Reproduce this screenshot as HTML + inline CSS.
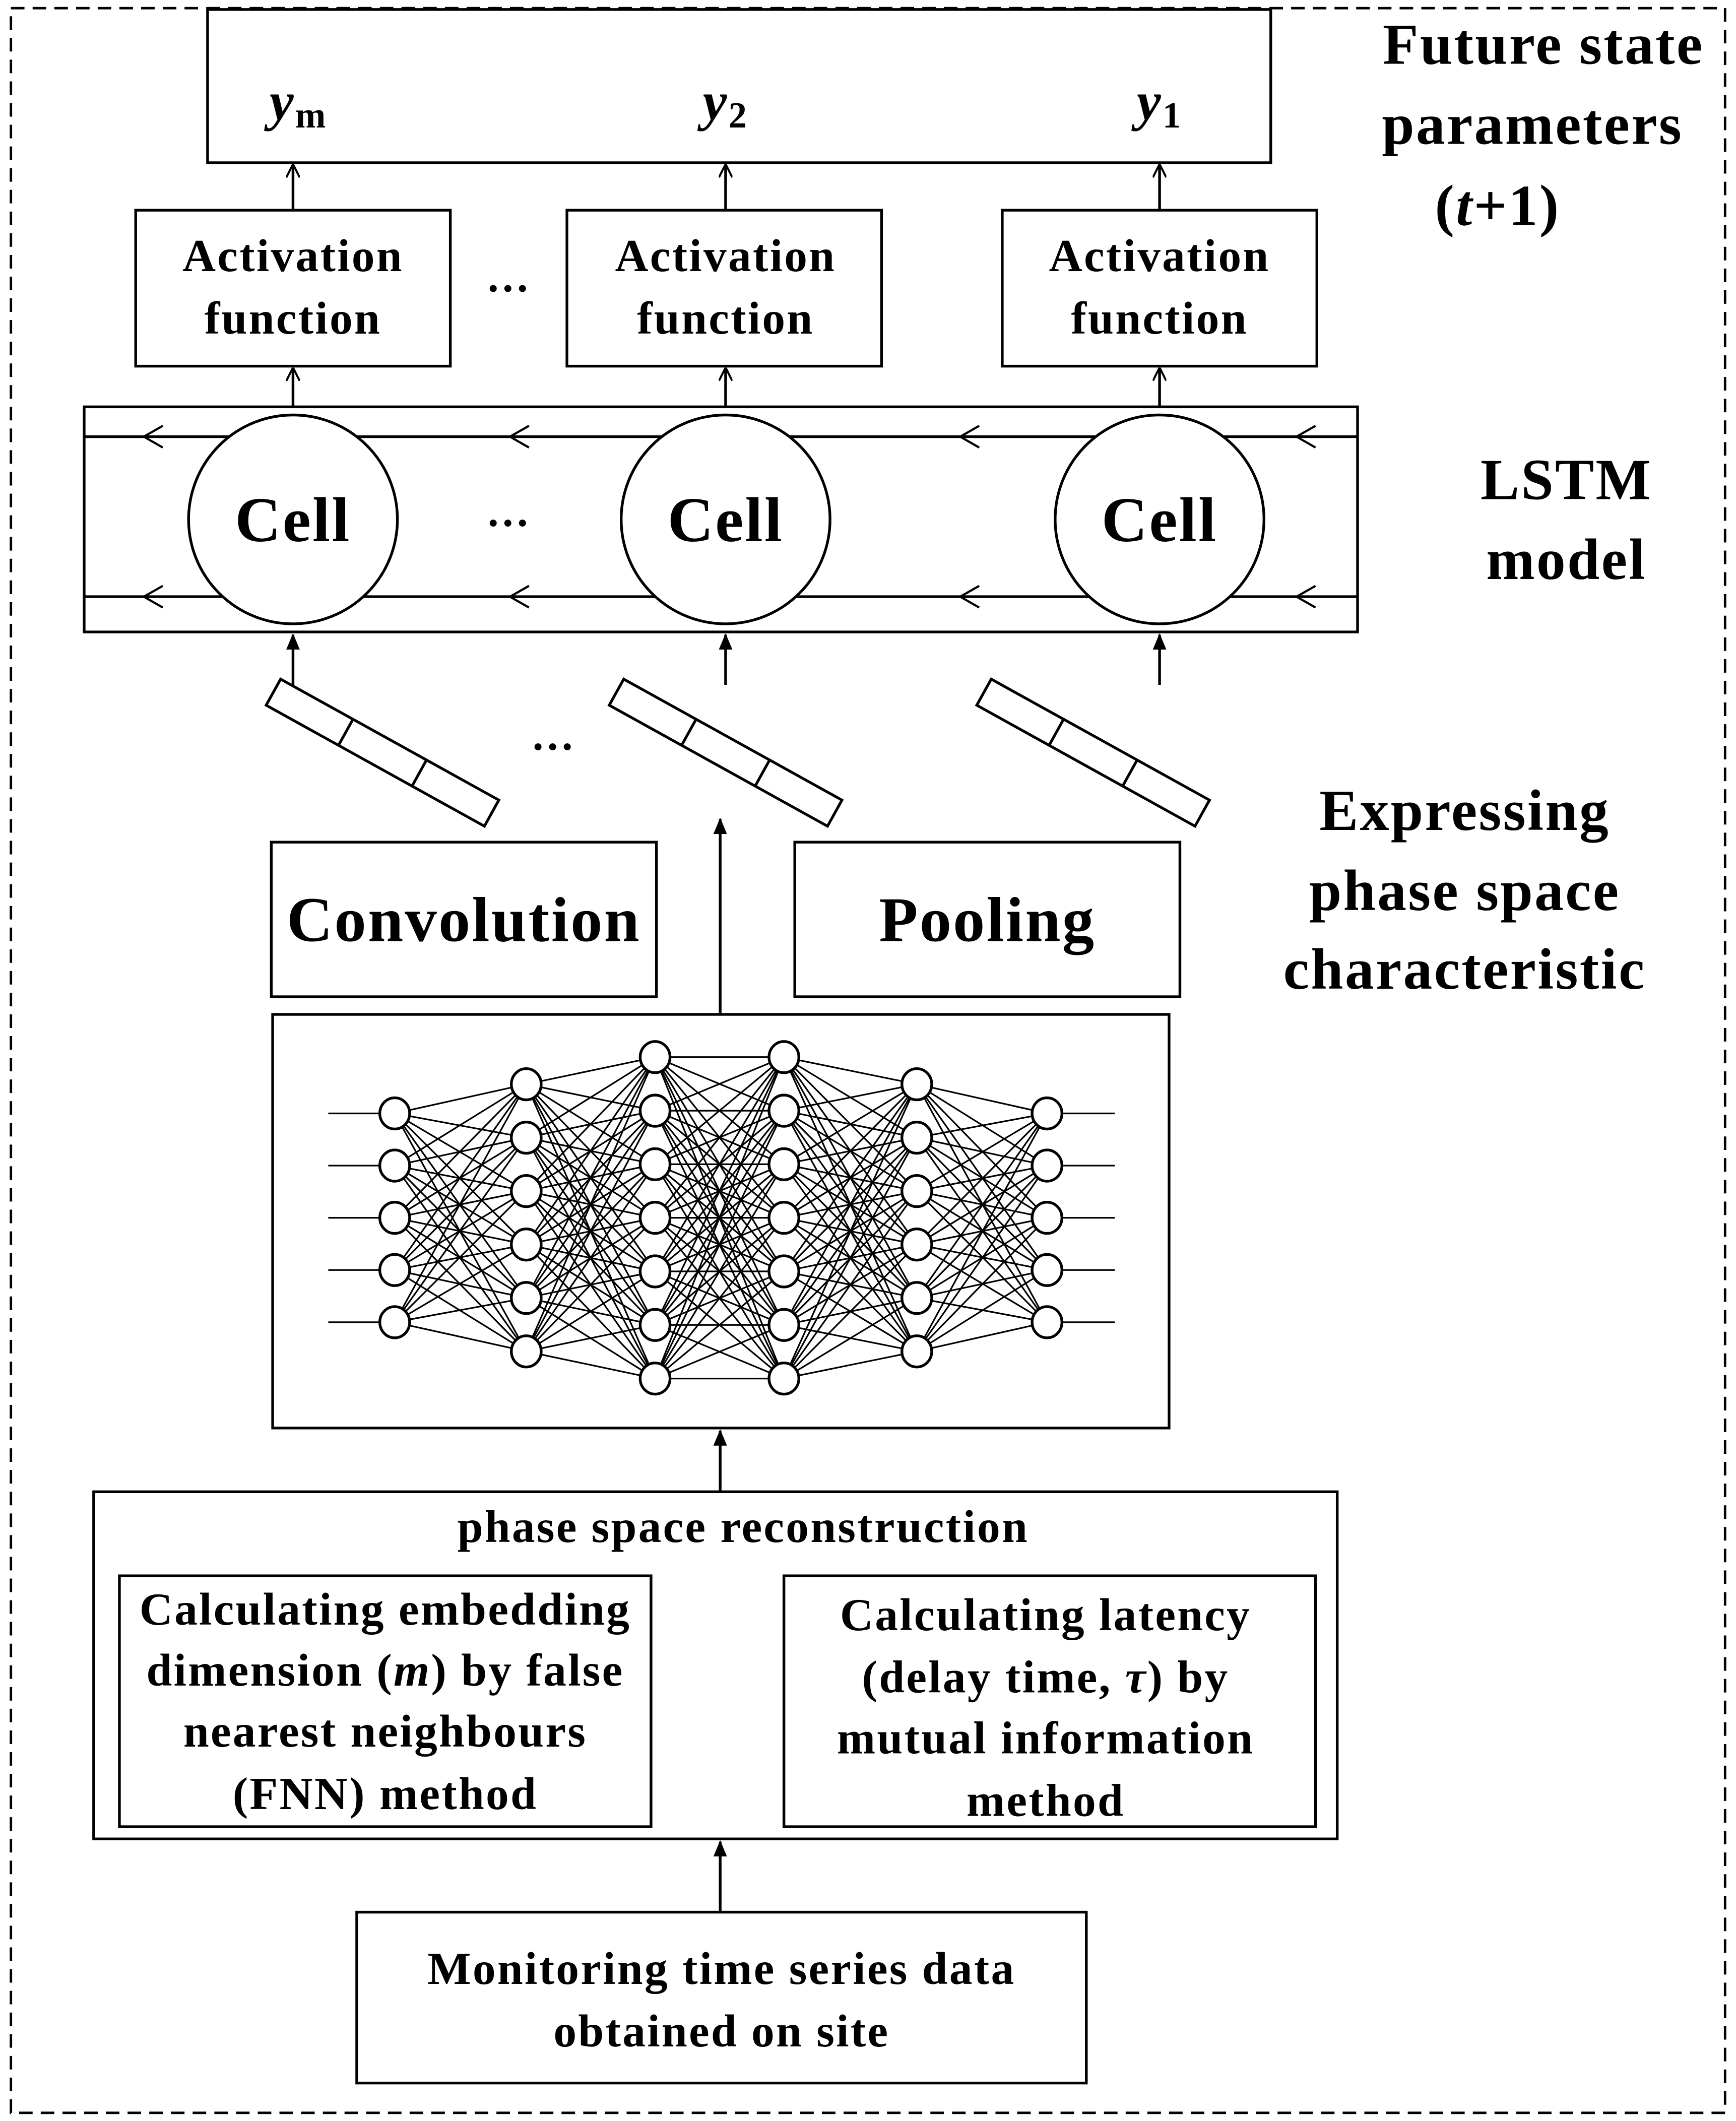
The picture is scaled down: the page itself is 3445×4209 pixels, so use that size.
<!DOCTYPE html>
<html><head><meta charset="utf-8"><style>
html,body{margin:0;padding:0;background:#fff}
svg{display:block}
text{font-family:"Liberation Serif",serif;font-weight:bold;fill:#000;letter-spacing:1.2px}
</style></head><body>
<svg id="s" width="3445" height="4209" viewBox="0 0 1280 1564" xmlns="http://www.w3.org/2000/svg">
<defs>
<marker id="a" markerWidth="10" markerHeight="10" refX="9" refY="5" orient="auto" markerUnits="userSpaceOnUse"><path d="M0,0 L10,5 L0,10" fill="none" stroke="#000" stroke-width="1.5"/></marker>
<marker id="f" markerWidth="12" markerHeight="12" refX="11" refY="6" orient="auto" markerUnits="userSpaceOnUse"><path d="M0,1 L12,6 L0,11 z" fill="#000"/></marker>
</defs>
<g fill="none" stroke="#000" stroke-width="2">
<rect x="8" y="6" width="1264" height="1552" stroke-dasharray="10,6" stroke-width="1.8"/>
<rect x="153" y="7" width="784" height="113"/>
<rect x="100" y="155" width="232" height="115"/>
<rect x="418" y="155" width="232" height="115"/>
<rect x="739" y="155" width="232" height="115"/>
<line x1="216" y1="155" x2="216" y2="122" marker-end="url(#a)"/>
<line x1="535" y1="155" x2="535" y2="122" marker-end="url(#a)"/>
<line x1="855" y1="155" x2="855" y2="122" marker-end="url(#a)"/>
<rect x="62" y="300" width="939" height="166"/>
<line x1="62" y1="322" x2="1001" y2="322"/>
<line x1="62" y1="440" x2="1001" y2="440"/>
<circle cx="216" cy="383" r="77" fill="#fff"/>
<circle cx="535" cy="383" r="77" fill="#fff"/>
<circle cx="855" cy="383" r="77" fill="#fff"/>
<g stroke-width="1.6">
<path d="M120,314 L106,322 L120,330 M390,314 L376,322 L390,330 M722,314 L708,322 L722,330 M970,314 L956,322 L970,330"/>
<path d="M120,432 L106,440 L120,448 M390,432 L376,440 L390,448 M722,432 L708,440 L722,448 M970,432 L956,440 L970,448"/>
</g>
<line x1="216" y1="300" x2="216" y2="272" marker-end="url(#a)"/>
<line x1="535" y1="300" x2="535" y2="272" marker-end="url(#a)"/>
<line x1="855" y1="300" x2="855" y2="272" marker-end="url(#a)"/>
<line x1="216" y1="505" x2="216" y2="468" marker-end="url(#f)"/>
<line x1="535" y1="505" x2="535" y2="468" marker-end="url(#f)"/>
<line x1="855" y1="505" x2="855" y2="468" marker-end="url(#f)"/>
<g transform="translate(282,555) rotate(29)"><rect x="-92" y="-11" width="184" height="22"/><line x1="-31" y1="-11" x2="-31" y2="11"/><line x1="31" y1="-11" x2="31" y2="11"/></g>
<g transform="translate(535,555) rotate(29)"><rect x="-92" y="-11" width="184" height="22"/><line x1="-31" y1="-11" x2="-31" y2="11"/><line x1="31" y1="-11" x2="31" y2="11"/></g>
<g transform="translate(806,555) rotate(29)"><rect x="-92" y="-11" width="184" height="22"/><line x1="-31" y1="-11" x2="-31" y2="11"/><line x1="31" y1="-11" x2="31" y2="11"/></g>
<rect x="200" y="621" width="284" height="114"/>
<rect x="586" y="621" width="284" height="114"/>
<line x1="531" y1="748" x2="531" y2="604" marker-end="url(#f)"/>
<rect x="201" y="748" width="661" height="305"/>
<g id="nn" stroke-width="1.2"></g>
<line x1="531" y1="1100" x2="531" y2="1055" marker-end="url(#f)"/>
<rect x="69" y="1100" width="917" height="256"/>
<rect x="88" y="1162" width="392" height="185"/>
<rect x="578" y="1162" width="392" height="185"/>
<line x1="531" y1="1410" x2="531" y2="1358" marker-end="url(#f)"/>
<rect x="263" y="1410" width="538" height="126"/>
</g>
<g font-size="40" text-anchor="middle">
<text x="220" y="88"><tspan font-style="italic">y</tspan><tspan font-size="27" dy="6">m</tspan></text>
<text x="535" y="88"><tspan font-style="italic">y</tspan><tspan font-size="27" dy="6">2</tspan></text>
<text x="855" y="88"><tspan font-style="italic">y</tspan><tspan font-size="27" dy="6">1</tspan></text>
<g font-size="43"><text x="1138" y="47">Future state</text>
<text x="1130" y="106">parameters</text>
<text x="1058" y="166" text-anchor="start">(<tspan font-style="italic">t</tspan>+1)</text></g>
<g font-size="34"><text x="216" y="200">Activation</text><text x="216" y="246">function</text>
<text x="535" y="200">Activation</text><text x="535" y="246">function</text>
<text x="855" y="200">Activation</text><text x="855" y="246">function</text></g>
<text x="375" y="215" font-size="32">…</text>
<text x="375" y="388" font-size="32">…</text>
<text x="408" y="553" font-size="32">…</text>
<g font-size="47"><text x="216" y="399">Cell</text><text x="535" y="399">Cell</text><text x="855" y="399">Cell</text>
<text x="342" y="694">Convolution</text><text x="728" y="694">Pooling</text></g>
<g font-size="43"><text x="1155" y="368">LSTM</text><text x="1155" y="427">model</text>
<text x="1080" y="612">Expressing</text><text x="1080" y="671">phase space</text><text x="1080" y="729">characteristic</text></g>
<g font-size="34">
<text x="548" y="1137">phase space reconstruction</text>
<text x="284" y="1198">Calculating embedding</text>
<text x="284" y="1243">dimension (<tspan font-style="italic">m</tspan>) by false</text>
<text x="284" y="1288">nearest neighbours</text>
<text x="284" y="1334">(FNN) method</text>
<text x="771" y="1202">Calculating latency</text>
<text x="771" y="1248">(delay time, <tspan font-style="italic">τ</tspan>) by</text>
<text x="771" y="1293">mutual information</text>
<text x="771" y="1339">method</text>
<text x="532" y="1463">Monitoring time series data</text>
<text x="532" y="1509">obtained on site</text>
</g>
</g>
</svg>
<script>
(function(){
var g=document.getElementById('nn'),ns='http://www.w3.org/2000/svg';
var X=[291,388,483,578,676,772],N=[5,6,7,7,6,5],C=898,S=[38.5,39.4,39.5,39.5,39.4,38.5];
var L=[];
for(var i=0;i<6;i++){var a=[];for(var j=0;j<N[i];j++)a.push(C+(j-(N[i]-1)/2)*S[i]);L.push(a);}
function ln(x1,y1,x2,y2){var e=document.createElementNS(ns,'line');e.setAttribute('x1',x1);e.setAttribute('y1',y1);e.setAttribute('x2',x2);e.setAttribute('y2',y2);g.appendChild(e);}
for(i=0;i<5;i++)for(j=0;j<N[i];j++)for(var k=0;k<N[i+1];k++)ln(X[i],L[i][j],X[i+1],L[i+1][k]);
for(j=0;j<5;j++){ln(242,L[0][j],280,L[0][j]);ln(783,L[5][j],822,L[5][j]);}
for(i=0;i<6;i++)for(j=0;j<N[i];j++){var c=document.createElementNS(ns,'ellipse');c.setAttribute('cx',X[i]);c.setAttribute('cy',L[i][j]);c.setAttribute('rx',11);c.setAttribute('ry',11.5);c.setAttribute('fill','#fff');c.setAttribute('stroke-width','2');g.appendChild(c);}
})();
</script>
</body></html>
